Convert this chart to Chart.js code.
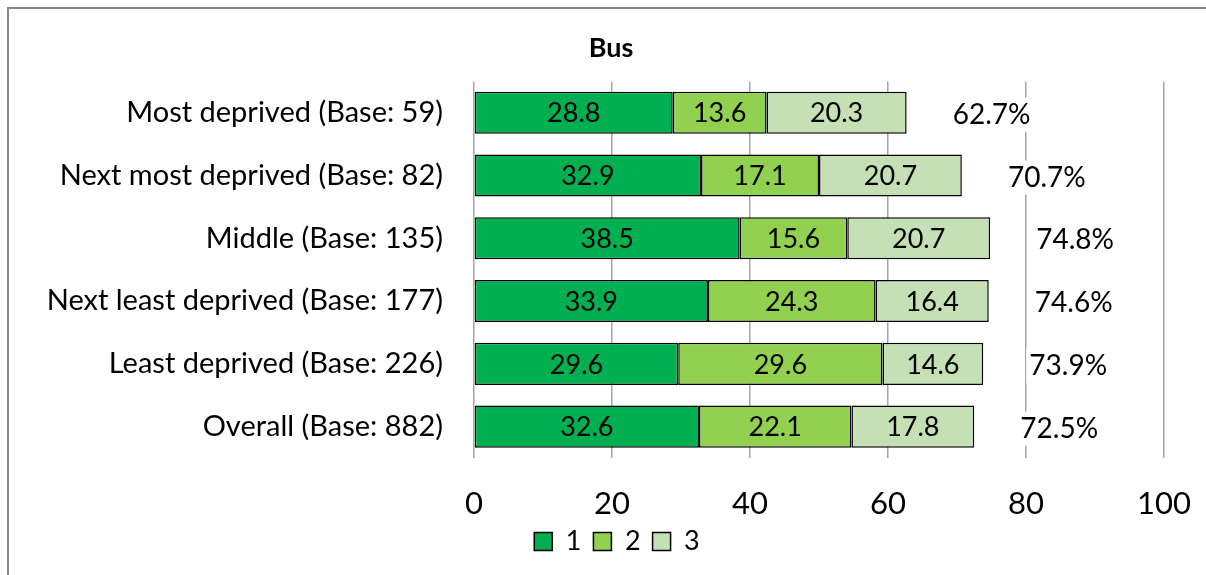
<!DOCTYPE html>
<html>
<head>
<meta charset="utf-8">
<script src="https://cdn.jsdelivr.net/npm/chart.js@4"></script>
<style>
  html, body { margin: 0; padding: 0; background: #fff; }
  #wrap { position: relative; width: 1206px; height: 575px; }
  #frame { position: absolute; left: 7px; top: 7px; right: -10px; bottom: -10px;
           border-left: 2px solid #898989; border-top: 2px solid #898989; pointer-events: none; }
</style>
</head>
<body>
<div id="wrap">
  <canvas id="busChart" width="1206" height="575"></canvas>
  <div id="frame"></div>
</div>
<script>
// chart data
const categories = [
  'Most deprived (Base: 59)',
  'Next most deprived (Base: 82)',
  'Middle (Base: 135)',
  'Next least deprived (Base: 177)',
  'Least deprived (Base: 226)',
  'Overall (Base: 882)'
];
const series1 = [28.8, 32.9, 38.5, 33.9, 29.6, 32.6];
const series2 = [13.6, 17.1, 15.6, 24.3, 29.6, 22.1];
const series3 = [20.3, 20.7, 20.7, 16.4, 14.6, 17.8];
const totals  = [62.7, 70.7, 74.8, 74.6, 73.9, 72.5];
const seriesNames = ['1', '2', '3'];
const xTicks = [0, 20, 40, 60, 80, 100];

const FONT = 'Lato, "Open Sans", sans-serif';
Chart.defaults.font.family = FONT;
Chart.defaults.color = '#000';

// value labels inside bars + total labels to the right
const labelPlugin = {
  id: 'barLabels',
  afterDatasetsDraw(chart) {
    const ctx = chart.ctx;
    ctx.save();
    ctx.fillStyle = '#000';
    ctx.textAlign = 'center';
    ctx.textBaseline = 'middle';
    ctx.font = '27px ' + FONT;
    chart.data.datasets.forEach((ds, i) => {
      chart.getDatasetMeta(i).data.forEach((bar, j) => {
        const cx = (bar.x + bar.base) / 2;
        ctx.fillText(ds.data[j].toFixed(1), cx, bar.y + 1);
      });
    });
    ctx.font = '28px ' + FONT;
    const lastMeta = chart.getDatasetMeta(chart.data.datasets.length - 1);
    totals.forEach((t, j) => {
      const bar = lastMeta.data[j];
      const txt = t.toFixed(1) + '%';
      const cx = bar.x + 85;
      const cy = bar.y + 2;
      const w = ctx.measureText(txt).width;
      ctx.fillStyle = '#fff';
      ctx.fillRect(cx - w / 2 - 3, cy - 17, w + 6, 34);
      ctx.fillStyle = '#000';
      ctx.fillText(txt, cx, cy);
    });
    ctx.restore();
  }
};

// nudge title and legend to sit centred over the plot like the original
const shiftPlugin = {
  id: 'shiftBoxes',
  afterLayout(chart) {
    chart.titleBlock.left += 11;
    chart.titleBlock.right += 11;
    chart.legend.left += 17;
    chart.legend.right += 17;
  }
};

const ctx = document.getElementById('busChart').getContext('2d');
const colors = ['#00b050', '#92d050', '#c5e0b4'];
const allSeries = [series1, series2, series3];

new Chart(ctx, {
  type: 'bar',
  data: {
    labels: categories,
    datasets: allSeries.map((d, i) => ({
      label: seriesNames[i],
      data: d,
      backgroundColor: colors[i],
      borderColor: '#000',
      borderWidth: 1.5,
      borderSkipped: false,
      barPercentage: 0.67,
      categoryPercentage: 1
    }))
  },
  options: {
    indexAxis: 'y',
    responsive: false,
    animation: false,
    layout: { padding: { left: 36, right: 42, top: 0, bottom: 10 } },
    scales: {
      x: {
        stacked: true,
        min: 0,
        max: 100,
        afterBuildTicks: s => { s.ticks = xTicks.map(v => ({ value: v })); },
        grid: { color: '#a6a6a6', lineWidth: 1.5, drawTicks: false },
        border: { display: false },
        ticks: { font: { size: 31 }, padding: 27, color: '#000' },
        afterFit: s => { s.height = 58; s.paddingLeft = 0; s.paddingRight = 0; }
      },
      y: {
        stacked: true,
        grid: { display: false, drawTicks: false },
        border: { display: false },
        ticks: { font: { size: 29 }, padding: 31, color: '#000' },
        afterFit: s => { s.width = 438; }
      }
    },
    plugins: {
      title: {
        display: true,
        text: 'Bus',
        font: { size: 27, weight: 'bold' },
        color: '#000',
        padding: { top: 32, bottom: 17 }
      },
      legend: {
        position: 'bottom',
        labels: {
          font: { size: 27 },
          boxWidth: 18,
          boxHeight: 18,
          padding: 12,
          color: '#000'
        }
      },
      tooltip: { enabled: false }
    }
  },
  plugins: [labelPlugin, shiftPlugin]
});
</script>
</body>
</html>
